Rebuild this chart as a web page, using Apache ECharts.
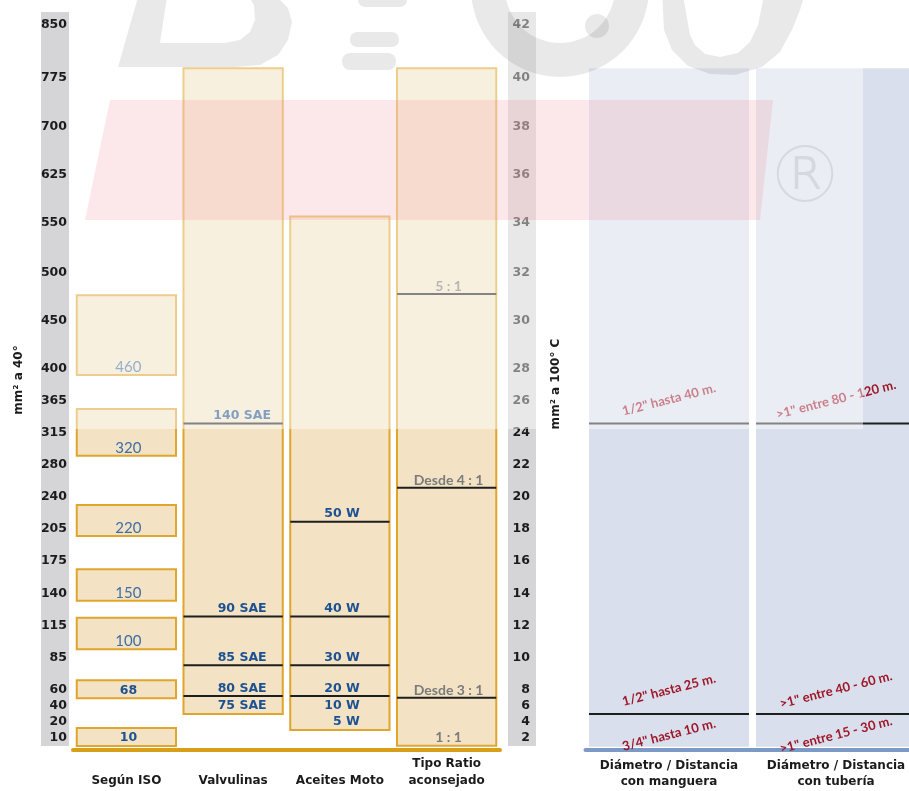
<!DOCTYPE html>
<html>
<head>
<meta charset="utf-8">
<script src="https://cdn.jsdelivr.net/npm/echarts@6/dist/echarts.min.js"></script>
<style>
  html, body { margin: 0; padding: 0; background: #ffffff; }
  #chart { width: 909px; height: 791px; }
</style>
</head>
<body>
<div id="chart"></div>
<script>
// Vertical scale: positions are expressed in chart rows (one row = one small step)
const tickPos  = [0, 1, 2, 3, 5, 7, 9, 11.1, 13.1, 15.1, 17.1, 19.1, 21.1, 23.1, 26.1, 29.1, 32.2, 35.2, 38.2, 41.25, 44.55];
const ticks40  = ['10','20','40','60','85','115','140','175','205','240','280','315','365','400','450','500','550','625','700','775','850'];
const ticks100 = ['2','4','6','8','10','12','14','16','18','20','22','24','26','28','30','32','34','36','38','40','42'];

const columns = ['Según ISO', 'Valvulinas', 'Aceites Motor', 'Tipo Ratio\naconsejado'];

// ISO viscosity grade bands
const isoGrades = ['460', '320', '220', '150', '100', '68', '10'];
const isoLow    = [22.69, 17.64, 12.63, 8.58, 5.54, 2.48, -0.5];
const isoHigh   = [27.67, 20.56, 14.56, 10.54, 7.52, 3.61, 0.63];

// Tall range boxes (Valvulinas, Aceites Motor, Tipo Ratio)
const rangeCol  = [1, 2, 3];
const rangeLow  = [1.5, 0.5, -0.48];
const rangeHigh = [41.86, 32.6, 41.86];
const rangeFoot = ['75 SAE', '5 W', '1 : 1'];

// Grade dividers inside the range boxes
const gearLevels  = [19.65, 7.6, 4.54, 2.63];
const gearNames   = ['140 SAE', '90 SAE', '85 SAE', '80 SAE'];
const motorLevels = [13.52, 7.6, 4.54, 2.63];
const motorNames  = ['50 W', '40 W', '30 W', '20 W'];
const motorBelow  = ['', '', '', '10 W'];
const ratioLevels = [27.75, 15.64, 2.52];
const ratioNames  = ['5 : 1', 'Desde 4 : 1', 'Desde 3 : 1'];

// Pipe diameter / distance panels
const pipeCols   = ['Diámetro / Distancia\ncon manguera', 'Diámetro / Distancia\ncon tubería'];
const pipeLow    = -0.54;
const pipeHigh   = 41.86;
const pipeLevels = [19.65, 1.5];
const hoseText   = ['1/2" hasta 40 m.', '1/2" hasta 25 m.'];
const hoseFoot   = '3/4" hasta 10 m.';
const tubeText   = ['>1" entre 80 - 120 m.', '>1" entre 40 - 60 m.'];
const tubeFoot   = '>1" entre 15 - 30 m.';

const HEAVY = '"DejaVu Sans", Lato, sans-serif';
const FONT = 'Lato, "Open Sans", "DejaVu Sans", sans-serif';
const BOX_FILL = '#f3e3c4';
const BOX_EDGE = '#dfa52c';
const BLUE = '#1c5192';
const LABEL_BLUE = '#3c6ea7';
const GREY_TXT = '#7b7b7b';
const RED_TXT = '#9e1627';
const MARK = 'rgba(0,0,0,0.085)';

// label placement per column: [x offset, text align]
const colLabel = [[2, 'center'], [9, 'center'], [20, 'right'], [2, 'center']];

function nearestTick(v) {
  let best = 0;
  for (let i = 1; i < tickPos.length; i++) {
    if (Math.abs(tickPos[i] - v) < Math.abs(tickPos[best] - v)) best = i;
  }
  return best;
}

function boxRect(api, col, lo, hi, ratio) {
  const top = api.coord([col, hi]);
  const bot = api.coord([col, lo]);
  const w = api.size([1, 0])[0] * ratio;
  return { x: top[0] - w / 2, y: top[1], width: w, height: bot[1] - top[1], cx: top[0] };
}

function colText(col, cx, y, text, color, font) {
  const [dx, align] = colLabel[col];
  return {
    type: 'text', x: cx + dx, y: y,
    style: { text: text, fill: color, align: align, verticalAlign: 'middle', font: font }
  };
}

const BOLD_LABEL = 'bold 12.5px ' + HEAVY;
const GREY_LABEL = '700 14px ' + FONT;

const dividers = []
  .concat(gearLevels.map((l, i) => [1, l, gearNames[i], '']))
  .concat(motorLevels.map((l, i) => [2, l, motorNames[i], motorBelow[i]]))
  .concat(ratioLevels.map((l, i) => [3, l, ratioNames[i], '']));

const chart = echarts.init(document.getElementById('chart'), null, { renderer: 'canvas' });

const option = {
  animation: false,
  backgroundColor: '#ffffff',
  grid: [
    { left: 73, width: 427, top: 2, height: 748 },
    { left: 585.5, width: 323.5, top: 2, height: 748 }
  ],
  xAxis: [
    {
      gridIndex: 0, type: 'category', data: columns, z: 5,
      axisTick: { show: false },
      axisLine: { onZero: false, lineStyle: { color: '#d8a018', width: 4 } },
      axisLabel: {
        interval: 0, margin: 39, verticalAlign: 'bottom', lineHeight: 17,
        color: '#1b1b1b', fontWeight: 'bold', fontSize: 12, fontFamily: HEAVY,
        width: 90, overflow: 'truncate', ellipsis: ''
      }
    },
    {
      gridIndex: 1, type: 'value', min: -0.5, max: 1.437, z: 5,
      splitLine: { show: false },
      axisTick: { show: false },
      axisLine: { onZero: false, lineStyle: { color: '#7b9bc6', width: 4 } },
      axisLabel: {
        customValues: [0, 1], margin: 8, verticalAlign: 'top', lineHeight: 16,
        color: '#1b1b1b', fontWeight: 'bold', fontSize: 12, fontFamily: HEAVY,
        formatter: v => pipeCols[Math.round(v)]
      }
    }
  ],
  yAxis: [
    {
      gridIndex: 0, type: 'value', min: -0.75, max: 46, position: 'left', z: 5,
      axisLine: { show: false }, axisTick: { show: false }, splitLine: { show: false },
      axisLabel: {
        customValues: tickPos, margin: 6, color: '#1b1b1b',
        fontWeight: 'bold', fontSize: 12.5, fontFamily: HEAVY,
        formatter: v => ticks40[nearestTick(v)]
      }
    },
    {
      gridIndex: 0, type: 'value', min: -0.75, max: 46, position: 'right', z: 5,
      axisLine: { show: false }, axisTick: { show: false }, splitLine: { show: false },
      axisLabel: {
        customValues: tickPos, margin: 30, align: 'right', color: '#1b1b1b',
        fontWeight: 'bold', fontSize: 12.5, fontFamily: HEAVY,
        formatter: v => ticks100[nearestTick(v)]
      }
    },
    {
      gridIndex: 1, type: 'value', min: -0.75, max: 46, show: false
    }
  ],
  series: [
    {
      // ISO grade bands
      type: 'custom', xAxisIndex: 0, yAxisIndex: 0, z: 6,
      data: isoGrades.map((g, i) => [0, isoLow[i], isoHigh[i]]),
      renderItem(params, api) {
        const r = boxRect(api, api.value(0), api.value(1), api.value(2), 0.93);
        const grade = isoGrades[params.dataIndex];
        const strong = Number(grade) < 100;
        return {
          type: 'group',
          children: [
            { type: 'rect', shape: { x: r.x, y: r.y, width: r.width, height: r.height },
              style: { fill: BOX_FILL, stroke: BOX_EDGE, lineWidth: 2 } },
            colText(0, r.cx, r.y + r.height - 8, grade,
              strong ? BLUE : LABEL_BLUE, strong ? BOLD_LABEL : '400 15px ' + FONT)
          ]
        };
      }
    },
    {
      // tall range boxes
      type: 'custom', xAxisIndex: 0, yAxisIndex: 0, z: 6,
      data: rangeCol.map((c, i) => [c, rangeLow[i], rangeHigh[i]]),
      renderItem(params, api) {
        const col = api.value(0);
        const r = boxRect(api, col, api.value(1), api.value(2), 0.93);
        const ratio = col === 3;
        return {
          type: 'group',
          children: [
            { type: 'rect', shape: { x: r.x, y: r.y, width: r.width, height: r.height },
              style: { fill: BOX_FILL, stroke: BOX_EDGE, lineWidth: 2 } },
            colText(col, r.cx, r.y + r.height - 8, rangeFoot[params.dataIndex],
              ratio ? GREY_TXT : BLUE, ratio ? GREY_LABEL : BOLD_LABEL)
          ]
        };
      }
    },
    {
      // grade dividers with their names
      type: 'custom', xAxisIndex: 0, yAxisIndex: 0, z: 7,
      data: dividers.map(d => [d[0], d[1]]),
      renderItem(params, api) {
        const col = api.value(0);
        const d = dividers[params.dataIndex];
        const p = api.coord([col, api.value(1)]);
        const w = api.size([1, 0])[0] * 0.93;
        const ratio = col === 3;
        const kids = [
          { type: 'line', shape: { x1: p[0] - w / 2, y1: p[1], x2: p[0] + w / 2, y2: p[1] },
            style: { stroke: '#1e1e1e', lineWidth: 2 } },
          colText(col, p[0], p[1] - 7.5, d[2], ratio ? GREY_TXT : BLUE, ratio ? GREY_LABEL : BOLD_LABEL)
        ];
        if (d[3]) kids.push(colText(col, p[0], p[1] + 10, d[3], BLUE, BOLD_LABEL));
        return { type: 'group', children: kids };
      }
    },
    {
      // pipe panels
      type: 'custom', xAxisIndex: 1, yAxisIndex: 2, z: 6,
      data: pipeCols.map((c, i) => [i, pipeLow, pipeHigh]),
      renderItem(params, api) {
        const i = params.dataIndex;
        const r = boxRect(api, api.value(0), api.value(1), api.value(2), 160 / 167);
        const texts = i === 0 ? hoseText : tubeText;
        const foot = i === 0 ? hoseFoot : tubeFoot;
        const kids = [
          { type: 'rect', shape: { x: r.x, y: r.y, width: r.width, height: r.height },
            style: { fill: '#d9dfec' } }
        ];
        pipeLevels.forEach((lvl, k) => {
          const y = api.coord([i, lvl])[1];
          kids.push({ type: 'line', shape: { x1: r.x, y1: y, x2: r.x + r.width, y2: y },
            style: { stroke: '#1e1e1e', lineWidth: 2 } });
          kids.push({ type: 'text', x: r.cx, y: y - 24, rotation: 0.25,
            style: { text: texts[k], fill: RED_TXT, align: 'center', verticalAlign: 'middle',
              font: '700 13px ' + FONT } });
        });
        const yl = api.coord([i, pipeLevels[1]])[1];
        kids.push({ type: 'text', x: r.cx, y: yl + 21, rotation: 0.25,
          style: { text: foot, fill: RED_TXT, align: 'center', verticalAlign: 'middle',
            font: '700 13px ' + FONT } });
        return { type: 'group', children: kids };
      }
    }
  ],
  graphic: [
    // grey scale strips behind the tick labels
    { type: 'rect', z: 1, shape: { x: 41, y: 12, width: 28, height: 734 }, style: { fill: '#d5d5d7' } },
    { type: 'rect', z: 1, shape: { x: 508, y: 12, width: 28, height: 734 }, style: { fill: '#d5d5d7' } },
    // washed-out upper area
    { type: 'rect', z: 50, shape: { x: 72, y: 0, width: 791, height: 429 },
      style: { fill: 'rgba(255,255,255,0.45)' } },
    // faint brand mark across the top
    { type: 'polygon', z: 56,
      shape: { points: [[140, -10], [255, -10], [275, -5], [288, 8], [292, 22], [288, 40], [278, 55],
                        [260, 65], [235, 67], [118, 67]] },
      style: { fill: MARK } },
    { type: 'polygon', z: 57,
      shape: { points: [[168, -10], [160, 43], [225, 43], [240, 40], [250, 32], [255, 20], [254, 5], [245, -10]] },
      style: { fill: '#ffffff' } },
    { type: 'rect', z: 56, shape: { x: 358, y: -8, width: 49, height: 15, r: 7 }, style: { fill: MARK } },
    { type: 'rect', z: 56, shape: { x: 350, y: 32, width: 49, height: 15, r: 7 }, style: { fill: MARK } },
    { type: 'rect', z: 56, shape: { x: 342, y: 53, width: 54, height: 17, r: 8 }, style: { fill: MARK } },
    { type: 'ring', z: 56, shape: { cx: 560, cy: -12, r: 89, r0: 55 }, style: { fill: MARK } },
    { type: 'circle', z: 56, shape: { cx: 597, cy: 26, r: 12 }, style: { fill: MARK } },
    { type: 'polygon', z: 56,
      shape: { points: [[662, -10], [806, -10], [800, 10], [792, 30], [780, 52], [762, 67], [735, 75],
                        [710, 74], [688, 66], [672, 50], [664, 30]] },
      style: { fill: MARK } },
    { type: 'polygon', z: 57,
      shape: { points: [[682, -10], [765, -10], [758, 25], [750, 42], [738, 53], [720, 57], [705, 54],
                        [695, 45], [690, 35]] },
      style: { fill: '#ffffff' } },
    { type: 'text', z: 55, x: 805, y: 182,
      style: { text: '®', fill: '#d6d8de', align: 'center', verticalAlign: 'middle',
        font: '300 78px "DejaVu Sans", sans-serif' } },
    { type: 'polygon', z: 60, shape: { points: [[110, 100], [773, 100], [760, 220], [85, 220]] },
      style: { fill: 'rgba(236,110,124,0.16)' } },
    // axis titles
    { type: 'text', z: 60, x: 19, y: 380, rotation: Math.PI / 2,
      style: { text: 'mm² a 40°', fill: '#1b1b1b', align: 'center', verticalAlign: 'middle',
        font: 'bold 12px ' + HEAVY } },
    { type: 'text', z: 60, x: 556, y: 384, rotation: Math.PI / 2,
      style: { text: 'mm² a 100° C', fill: '#1b1b1b', align: 'center', verticalAlign: 'middle',
        font: 'bold 12px ' + HEAVY } }
  ]
};

chart.setOption(option);
</script>
</body>
</html>
